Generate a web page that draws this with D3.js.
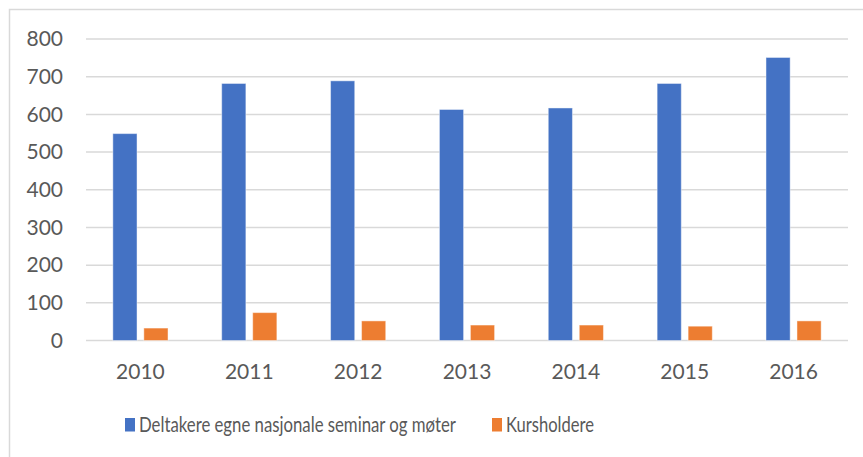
<!DOCTYPE html>
<html>
<head>
<meta charset="utf-8">
<script src="https://cdn.jsdelivr.net/npm/d3@7"></script>
<style>
  body { margin: 0; background: #fff; }
  svg { display: block; }
  text { font-family: Lato, "Open Sans", sans-serif; fill: #595959; }
</style>
</head>
<body>
<svg id="chart" width="863" height="457"></svg>
<script>
// data
var years = ['2010', '2011', '2012', '2013', '2014', '2015', '2016'];
var seriesNames = ['Deltakere egne nasjonale seminar og møter', 'Kursholdere'];
var deltakere = [549, 682, 689, 613, 617, 682, 751];
var kursholdere = [33, 74, 52, 41, 41, 38, 52];
var yTicks = [0, 100, 200, 300, 400, 500, 600, 700, 800];

var colors = ['#4472C4', '#ED7D31'];

var svg = d3.select('#chart');

// chart frame (runs off the right and bottom edge in the picture)
svg.append('rect')
    .attr('x', 9.5).attr('y', 9.5)
    .attr('width', 900).attr('height', 500)
    .attr('fill', 'none')
    .attr('stroke', '#D9D9D9')
    .attr('stroke-width', 1.5);

var plot = { left: 86, right: 848, top: 39, bottom: 340.5 };

var xScale = d3.scaleBand()
    .domain(years)
    .range([plot.left, plot.right])
    .padding(0);

var subScale = d3.scaleBand()
    .domain(seriesNames)
    .range([0, xScale.bandwidth()])
    .paddingInner(0.22)
    .paddingOuter(0.866);

var yScale = d3.scaleLinear()
    .domain([0, 800])
    .range([plot.bottom, plot.top]);

// gridlines
svg.append('g')
    .selectAll('line')
    .data(yTicks)
    .enter()
    .append('line')
    .attr('x1', plot.left)
    .attr('x2', plot.right)
    .attr('y1', function (d) { return yScale(d); })
    .attr('y2', function (d) { return yScale(d); })
    .attr('stroke', '#D9D9D9')
    .attr('stroke-width', 1.5);

// y tick labels
svg.append('g')
    .selectAll('text')
    .data(yTicks)
    .enter()
    .append('text')
    .attr('x', 63)
    .attr('y', function (d) { return yScale(d); })
    .attr('dy', '0.35em')
    .attr('text-anchor', 'end')
    .style('font-size', '21px')
    .text(function (d) { return d; });

// bars
var rows = years.map(function (y, i) {
    return { year: y, values: [deltakere[i], kursholdere[i]] };
});

var groups = svg.append('g')
    .selectAll('g')
    .data(rows)
    .enter()
    .append('g')
    .attr('transform', function (d) { return 'translate(' + xScale(d.year) + ',0)'; });

groups.selectAll('rect')
    .data(function (d) {
        return d.values.map(function (v, j) { return { name: seriesNames[j], value: v, idx: j }; });
    })
    .enter()
    .append('rect')
    .attr('x', function (d) { return subScale(d.name); })
    .attr('width', subScale.bandwidth())
    .attr('y', function (d) { return yScale(d.value); })
    .attr('height', function (d) { return yScale(0) - yScale(d.value); })
    .attr('fill', function (d) { return colors[d.idx]; })
    .attr('stroke', '#ffffff')
    .attr('stroke-opacity', 0.45)
    .attr('stroke-width', 1);

// x labels
svg.append('g')
    .selectAll('text')
    .data(years)
    .enter()
    .append('text')
    .attr('x', function (d) { return xScale(d) + xScale.bandwidth() / 2; })
    .attr('y', 372)
    .attr('dy', '0.35em')
    .attr('text-anchor', 'middle')
    .style('font-size', '21px')
    .text(function (d) { return d; });

// legend
var legendPos = [125, 492];
var legendWidths = [317, 88];
var legend = svg.append('g')
    .selectAll('g')
    .data(seriesNames)
    .enter()
    .append('g')
    .attr('transform', function (d, i) { return 'translate(' + legendPos[i] + ',0)'; });

legend.append('rect')
    .attr('x', 0).attr('y', 418)
    .attr('width', 10).attr('height', 13.5)
    .attr('fill', function (d, i) { return colors[i]; });

// the legend text in the picture is squeezed sideways, so scale it to fit
legend.append('text')
    .attr('x', 0)
    .attr('y', 0)
    .style('font-size', '22px')
    .text(function (d) { return d; })
    .each(function (d, i) {
        var w = this.getComputedTextLength();
        var sx = legendWidths[i] / w;
        d3.select(this).attr('transform', 'translate(14,432) scale(' + sx + ',1)');
    });
</script>
</body>
</html>
